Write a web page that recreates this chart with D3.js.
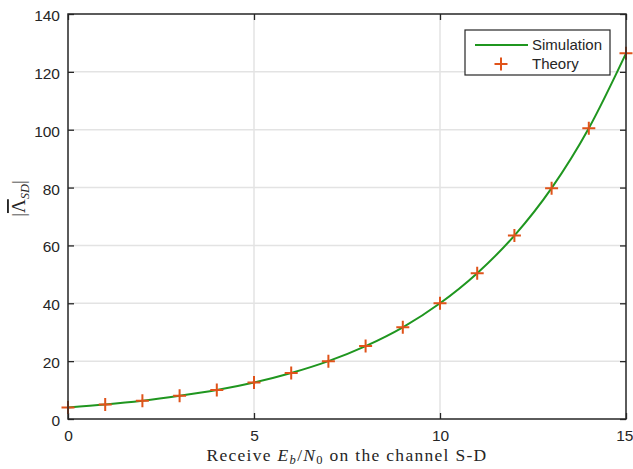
<!DOCTYPE html>
<html>
<head>
<meta charset="utf-8">
<script src="https://cdn.jsdelivr.net/npm/d3@7"></script>
<style>
  html, body { margin: 0; padding: 0; background: #fff; }
  svg { display: block; }
</style>
</head>
<body>
<svg id="chart" width="633" height="469"></svg>
<script>
// Received Eb/N0 on the S-D channel (dB)
const snrDb = [0, 1, 2, 3, 4, 5, 6, 7, 8, 9, 10, 11, 12, 13, 14, 15];
// Simulated |Λ_SD|
const simulation = [4.0, 5.0, 6.3, 8.0, 10.0, 12.6, 15.9, 20.0, 25.2, 31.7, 40.0, 50.4, 63.4, 79.8, 100.5, 126.4];
// Theoretical |Λ_SD|
const theory = [4.0, 5.0, 6.3, 8.0, 10.0, 12.6, 15.9, 20.0, 25.2, 31.7, 40.0, 50.4, 63.4, 79.8, 100.5, 126.4];
const xTicks = [0, 5, 10, 15];
const yTicks = [0, 20, 40, 60, 80, 100, 120, 140];
const legendLabels = ["Simulation", "Theory"];

const svg = d3.select("#chart");
const margin = { left: 68, right: 7, top: 14, bottom: 50 };
const W = 633, H = 469;
const x0 = margin.left, x1 = W - margin.right;
const y0 = H - margin.bottom, y1 = margin.top;

const x = d3.scaleLinear().domain([0, 15]).range([x0, x1]);
const y = d3.scaleLinear().domain([0, 140]).range([y0, y1]);

const axisColor = "#262626";
const gridColor = "#e3e3e3";
const lineColor = "#1f961f";
const markColor = "#e0531a";
const tickFont = "Liberation Sans, Arial, sans-serif";
const serifFont = "Liberation Serif, DejaVu Serif, serif";

// grid
const grid = svg.append("g");
grid.selectAll("line.gx").data(xTicks.slice(1, -1)).join("line")
  .attr("x1", d => x(d)).attr("x2", d => x(d))
  .attr("y1", y0).attr("y2", y1)
  .attr("stroke", gridColor).attr("stroke-width", 1.5);
grid.selectAll("line.gy").data(yTicks.slice(1, -1)).join("line")
  .attr("x1", x0).attr("x2", x1)
  .attr("y1", d => y(d)).attr("y2", d => y(d))
  .attr("stroke", gridColor).attr("stroke-width", 1.5);

// axes with inward ticks on all four sides
function styleAxis(g) {
  g.select(".domain").remove();
  g.selectAll(".tick line").attr("stroke", axisColor).attr("stroke-width", 1.3);
  g.selectAll(".tick text").attr("fill", axisColor)
    .style("font-family", tickFont).style("font-size", "15.5px");
}
svg.append("g").attr("transform", `translate(0,${y0})`)
  .call(d3.axisBottom(x).tickValues(xTicks).tickSizeInner(-6).tickPadding(11))
  .call(styleAxis)
  .call(g => g.selectAll(".tick text")
    .attr("text-anchor", d => d === 15 ? "end" : "middle")
    .attr("dx", d => d === 15 ? "7" : "0"));
svg.append("g").attr("transform", `translate(0,${y1})`)
  .call(d3.axisTop(x).tickValues(xTicks).tickSizeInner(-6).tickFormat(""))
  .call(styleAxis);
svg.append("g").attr("transform", `translate(${x0},0)`)
  .call(d3.axisLeft(y).tickValues(yTicks).tickSizeInner(-6).tickPadding(8))
  .call(styleAxis)
  .call(g => g.selectAll(".tick text").attr("dy", "0.42em"));
svg.append("g").attr("transform", `translate(${x1},0)`)
  .call(d3.axisRight(y).tickValues(yTicks).tickSizeInner(-6).tickFormat(""))
  .call(styleAxis);

// simulation curve
const line = d3.line()
  .x((d, i) => x(snrDb[i]))
  .y(d => y(d))
  .curve(d3.curveMonotoneX);
svg.append("path").datum(simulation)
  .attr("d", line)
  .attr("fill", "none")
  .attr("stroke", lineColor)
  .attr("stroke-width", 2);

// theory markers
function plusPath(s) {
  return `M${-s},0H${s}M0,${-s}V${s}`;
}
svg.append("g").selectAll("path").data(theory).join("path")
  .attr("transform", (d, i) => `translate(${x(snrDb[i])},${y(d)})`)
  .attr("d", plusPath(6.5))
  .attr("stroke", markColor)
  .attr("stroke-width", 2)
  .attr("fill", "none");

// plot box
svg.append("rect")
  .attr("x", x0).attr("y", y1)
  .attr("width", x1 - x0).attr("height", y0 - y1)
  .attr("fill", "none").attr("stroke", axisColor).attr("stroke-width", 1.5);

// axis labels
svg.append("text")
  .attr("x", (x0 + x1) / 2).attr("y", 461)
  .attr("text-anchor", "middle")
  .style("font-family", serifFont)
  .style("font-size", "17.5px")
  .style("letter-spacing", "1.3px")
  .attr("fill", axisColor)
  .call(t => {
    t.append("tspan").text("Receive ");
    t.append("tspan").style("font-style", "italic").text("E");
    t.append("tspan").attr("dy", 3).style("font-size", "12.5px").style("font-style", "italic").text("b");
    t.append("tspan").attr("dy", -3).text("/");
    t.append("tspan").style("font-style", "italic").text("N");
    t.append("tspan").attr("dy", 3).style("font-size", "12.5px").text("0");
    t.append("tspan").attr("dy", -3).text(" on the channel S-D");
  });

svg.append("text")
  .attr("transform", `translate(25,${(y0 + y1) / 2 - 18}) rotate(-90)`)
  .attr("text-anchor", "middle")
  .style("font-family", serifFont)
  .style("font-size", "19px")
  .attr("fill", axisColor)
  .call(t => {
    t.append("tspan").text("|");
    t.append("tspan").style("text-decoration", "overline").text("\u039B");
    t.append("tspan").attr("dy", 4).style("font-size", "12.5px").style("font-style", "italic").text("SD");
    t.append("tspan").attr("dy", -4).text("|");
  });

// legend
const lg = svg.append("g");
lg.append("rect")
  .attr("x", 465).attr("y", 30).attr("width", 145).attr("height", 45)
  .attr("fill", "#fff").attr("stroke", axisColor).attr("stroke-width", 1.2);
lg.append("line")
  .attr("x1", 475).attr("x2", 528).attr("y1", 45).attr("y2", 45)
  .attr("stroke", lineColor).attr("stroke-width", 2);
lg.append("path")
  .attr("transform", "translate(501,64)")
  .attr("d", plusPath(6.5))
  .attr("stroke", markColor).attr("stroke-width", 2).attr("fill", "none");
lg.selectAll("text").data(legendLabels).join("text")
  .attr("x", 532).attr("y", (d, i) => 50 + i * 19)
  .style("font-family", tickFont).style("font-size", "15px")
  .attr("fill", axisColor)
  .text(d => d);
</script>
</body>
</html>
